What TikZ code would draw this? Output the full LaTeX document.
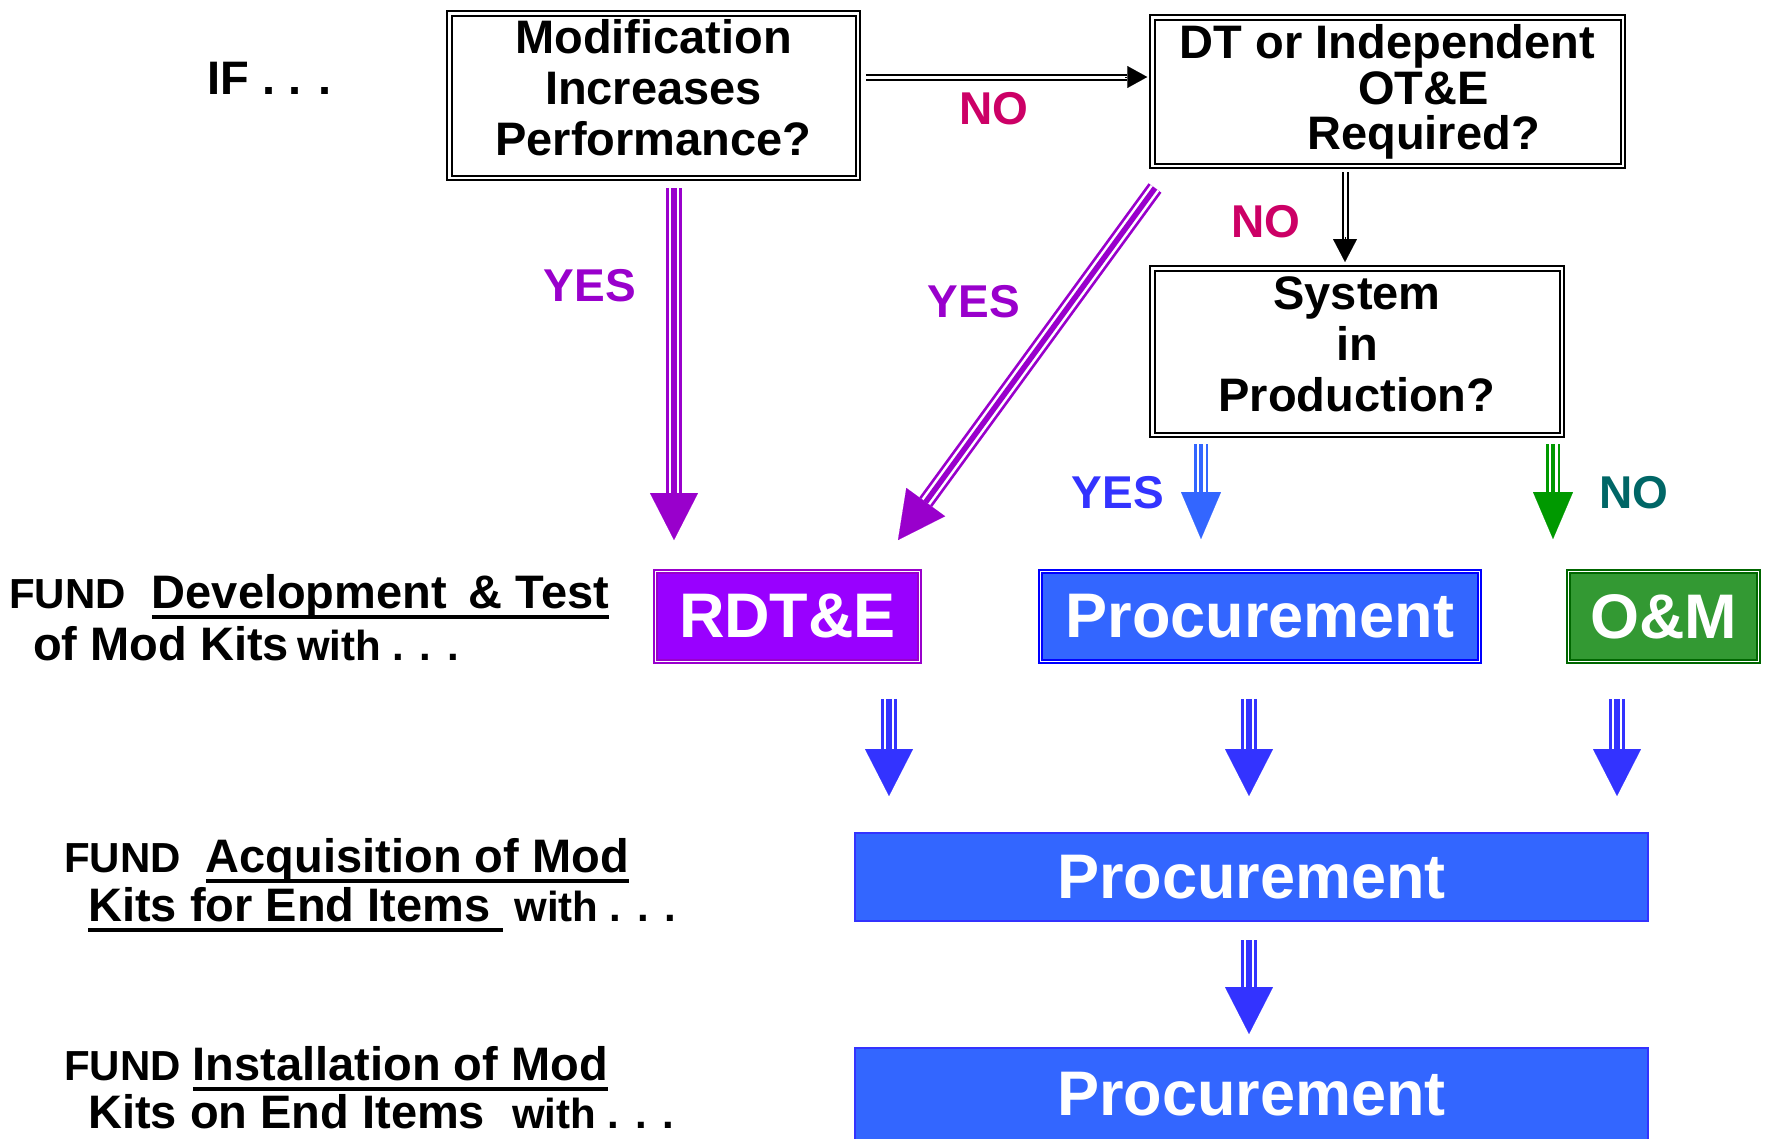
\documentclass[tikz,border=0pt]{standalone}
\usepackage{fontspec}
\setmainfont{Liberation Sans}
\usetikzlibrary{calc,arrows.meta}
\definecolor{purp}{HTML}{9900CC}
\definecolor{purpfill}{HTML}{9900FF}
\definecolor{mag}{HTML}{CC0066}
\definecolor{blueA}{HTML}{3333FF}
\definecolor{blueB}{HTML}{3366FF}
\definecolor{blueC}{HTML}{0000FF}
\definecolor{grn}{HTML}{009900}
\definecolor{grnfill}{HTML}{339933}
\definecolor{grndark}{HTML}{006600}
\definecolor{tealx}{HTML}{006666}
\newcommand\fsz[2]{\fontsize{#1pt}{#2pt}\selectfont}
\newcommand\smallt{\fsz{42}{42}}
\newcommand\ulbox[1]{\setbox0=\hbox{#1}\rlap{\rule[-10.5pt]{\wd0}{3.5pt}}\box0}
\newcommand\triarrow[6]{%
  \draw[#6=#1] (#2) -- ($(#3)!#4pt!(#2)$);
  \draw[#1, line width=0.1pt, -{Triangle[length=#4pt,width=#5pt]}] ($(#3)!#4pt+3pt!(#2)$) -- (#3);}
\newcommand\dblarrow[4]{%
  \draw[dblline] (#1) -- ($(#2)!#3pt!(#1)$);
  \draw[black, line width=0.1pt, -{Triangle[length=#3pt,width=#4pt]}] ($(#2)!#3pt+2pt!(#1)$) -- (#2);}
\begin{document}
\begin{tikzpicture}[x=1pt,y=-1pt,
  qbox/.style={draw=black, fill=white, line width=2pt, double=white, double distance=2.5pt, inner sep=0pt, outer sep=0pt, rectangle},
  qtext/.style={align=center, font=\fsz{47}{51}\bfseries, inner sep=0pt},
  cbox/.style={fill=#1, line width=1.8pt, double=white, double distance=1.5pt, inner sep=0pt, outer sep=0pt, minimum height=89.9pt, text=white, font=\fsz{63}{63}\bfseries},
  bar/.style={fill=blueB, draw=blueA, line width=2pt, inner sep=0pt, outer sep=0pt, minimum width=793pt, text=white, font=\fsz{63}{63}\bfseries},
  lbl/.style={font=\fsz{46}{46}\bfseries, inner sep=0pt},
  side/.style={anchor=base west, inner sep=0pt, font=\fsz{47}{47}\bfseries},
  triple/.style={draw=#1, line width=16pt, postaction={draw=white, line width=10.5pt}, postaction={draw=#1, line width=5.5pt}},
  triplesm/.style={draw=#1, line width=14pt, postaction={draw=white, line width=9pt}, postaction={draw=#1, line width=4.5pt}},
  dblline/.style={draw=black, line width=2pt, double=white, double distance=3pt}
]
\useasboundingbox (0,0) rectangle (1767,1138);
\clip (0,0) rectangle (1767,1138);

% question boxes
\node[qbox, minimum width=408.5pt, minimum height=164.5pt] (b1) at (653.5,95.5) {};
\node[qbox, minimum width=470.5pt, minimum height=148.5pt] (b2) at (1387.5,91.5) {};
\node[qbox, minimum width=409.5pt, minimum height=166.5pt] (b3) at (1357,351.5) {};
\node[qtext] (t1) at (653.5,88) {Modification\\Increases\\Performance?};
\node[qtext, font=\fsz{47}{45.6}\bfseries] (t2) at (1387.5,92) {DT or Independent\\\hspace*{72pt}OT\&E\\\hspace*{72pt}Required?};
\node[qtext] (t3) at (1357,344) {System\\in\\Production?};

% funding boxes
\node[cbox=purpfill, draw=purp, minimum width=263.9pt] (rdte) at (787.5,616.5) {RDT\&E};
\node[cbox=blueB, draw=blueC, minimum width=438.9pt] (proc) at (1260,616.5) {Procurement};
\node[cbox=grnfill, draw=grndark, minimum width=190pt] (om) at (1663.5,616.5) {O\&M};
\node[bar, minimum height=88pt] (bar2) at (1251.5,877) {Procurement};
\node[bar, minimum height=97pt] (bar3) at (1251.5,1096.5) {\raisebox{5.5pt}{Procurement}};

% side texts
\node[side] (if) at (207,94) {IF . . .};
\node[side] (l1a) at (9,608) {{\smallt FUND}\hspace{26pt}\ulbox{Development\hspace{22pt}\& Test}};
\node[side] (l1b) at (33,660) {of Mod Kits\hspace{8pt}{\smallt with . . .}};
\node[side] (l2a) at (64,872) {{\smallt FUND}\hspace{25pt}\ulbox{Acquisition of Mod}};
\node[side] (l2b) at (88,921) {\ulbox{Kits for End Items\hspace{13pt}}\hspace{11pt}{\smallt with . . .}};
\node[side] (l3a) at (64,1080) {{\smallt FUND}\hspace{12pt}\ulbox{Installation of Mod}};
\node[side] (l3b) at (88,1128) {Kits on End Items\hspace{27pt}{\smallt with . . .}};

% branch labels
\node[lbl, text=mag] (no1) at (994,109) {NO};
\node[lbl, text=mag] (no2) at (1266,222) {NO};
\node[lbl, text=purp] (yes1) at (590,286) {YES};
\node[lbl, text=purp] (yes2) at (974,302) {YES};
\node[lbl, text=blueA] (yes3) at (1118,493) {YES};
\node[lbl, text=tealx] (no3) at (1634,493) {NO};

% connector end points
\coordinate (k1) at ($(b1.east)+(8,-18.5)$);
\coordinate (k2) at ($(b2.west)+(-5,-14.5)$);
\coordinate (m1) at ($(b2.south)+(-42.5,6.25)$);
\coordinate (m2) at ($(b3.north)+(-12,-6.25)$);
\coordinate (a1) at ($(b1.south)+(20.5,10.25)$);
\coordinate (a2) at ($(rdte.north)+(-113.5,-31.5)$);
\coordinate (d1) at ($(b2.south)+(-232.5,22.25)$);
\coordinate (d2) at ($(rdte.north)+(110.5,-31.5)$);
\coordinate (c1) at ($(b3.south)+(-156,9.25)$);
\coordinate (c2) at ($(proc.north)+(-59,-32.5)$);
\coordinate (g1) at ($(b3.south)+(196,9.25)$);
\coordinate (g2) at ($(om.north)+(-110.5,-32.5)$);
\coordinate (e1) at ($(rdte.south)+(101.5,37.5)$);
\coordinate (e2) at ($(bar2.north)+(-362.5,-37)$);
\coordinate (f1) at ($(proc.south)+(-11,37.5)$);
\coordinate (f2) at ($(bar2.north)+(-2.5,-37)$);
\coordinate (h1) at ($(om.south)+(-46.5,37.5)$);
\coordinate (h2) at ($(bar2.north)+(365.5,-37)$);
\coordinate (j1) at ($(bar2.south)+(-2.5,19)$);
\coordinate (j2) at ($(bar3.north)+(-2.5,-14)$);

% connectors
\dblarrow{k1}{k2}{20}{22}
\dblarrow{m1}{m2}{23}{24}
\triarrow{purp}{a1}{a2}{47}{48}{triple}
\triarrow{purp}{d1}{d2}{47}{48}{triple}
\triarrow{blueB}{c1}{c2}{47}{40}{triplesm}
\triarrow{grn}{g1}{g2}{47}{40}{triplesm}
\triarrow{blueA}{e1}{e2}{47}{48}{triple}
\triarrow{blueA}{f1}{f2}{47}{48}{triple}
\triarrow{blueA}{h1}{h2}{47}{48}{triple}
\triarrow{blueA}{j1}{j2}{47}{48}{triple}
\end{tikzpicture}
\end{document}
